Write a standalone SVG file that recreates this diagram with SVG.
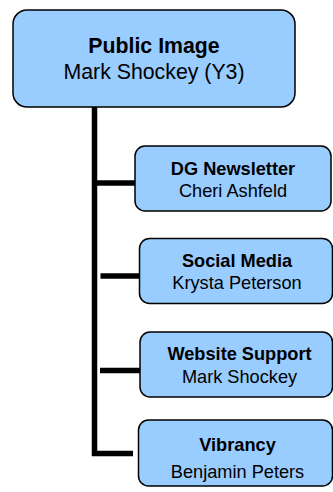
<svg xmlns="http://www.w3.org/2000/svg" width="333" height="492" viewBox="0 0 333 492">
<style>
.box{fill:#99CCFF;stroke:#000;stroke-width:1.5}
.t{font-family:"Liberation Sans",Arial,sans-serif;text-anchor:middle;fill:#000}
.b{font-weight:bold}
.top{font-size:21.3px}
.ch{font-size:18.2px}
.con{stroke:#000;stroke-width:5.5;fill:none}
</style>
<rect width="333" height="492" fill="#fff"/>
<g id="connectors">
<path class="con" d="M94.5 107 V453.5 H133"/>
<line class="con" x1="92" y1="183" x2="135" y2="183"/>
<line class="con" x1="100.5" y1="276" x2="140" y2="276"/>
<line class="con" x1="100" y1="370.5" x2="140" y2="370.5"/>
</g>
<g id="public-image">
<rect class="box" x="13" y="10" width="282" height="97" rx="14"/>
<text class="t b top" x="154" y="53">Public Image</text>
<text class="t top" x="154" y="79">Mark Shockey (Y3)</text>
</g>
<g id="dg-newsletter">
<rect class="box" x="135" y="146" width="196" height="65" rx="10"/>
<text class="t b ch" x="233" y="175">DG Newsletter</text>
<text class="t ch" x="233" y="196.5">Cheri Ashfeld</text>
</g>
<g id="social-media">
<rect class="box" x="139.5" y="238.5" width="193" height="65" rx="10"/>
<text class="t b ch" x="237" y="266.5">Social Media</text>
<text class="t ch" x="237" y="289">Krysta Peterson</text>
</g>
<g id="website-support">
<rect class="box" x="140" y="332" width="192.5" height="65" rx="10"/>
<text class="t b ch" x="239.5" y="359.5">Website Support</text>
<text class="t ch" x="239.5" y="383">Mark Shockey</text>
</g>
<g id="vibrancy">
<rect class="box" x="138.5" y="420" width="194" height="66" rx="10"/>
<text class="t b ch" x="237.5" y="450.5">Vibrancy</text>
<text class="t ch" x="237.5" y="478">Benjamin Peters</text>
</g>
</svg>
